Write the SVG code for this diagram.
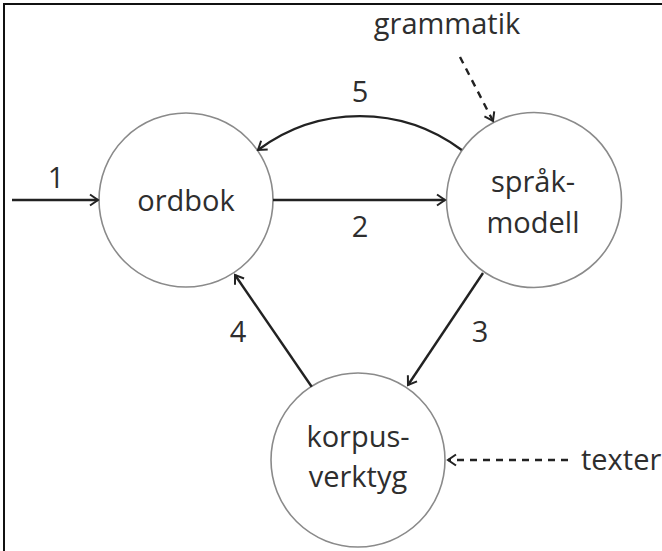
<svg xmlns="http://www.w3.org/2000/svg" width="662" height="551" viewBox="0 0 662 551">
<defs>
<marker id="ah" markerUnits="userSpaceOnUse" markerWidth="14" markerHeight="14" viewBox="-10 -7 12 14" refX="0" refY="0" orient="auto">
<path d="M-8,-5.5 L0,0 L-8,5.5" fill="none" stroke="#222" stroke-width="2"/>
</marker>
</defs>
<style>
.node{fill:#fff;stroke:#8a8a8a;stroke-width:1.6}
.t{font-family:"Open Sans","Noto Sans",sans-serif;font-size:29px;fill:#2e2e2e;text-anchor:middle}
.e{fill:none;stroke:#222;stroke-width:2.4;marker-end:url(#ah)}
.d{stroke-dasharray:7 6}
</style>
<rect width="662" height="551" fill="#fff"/>
<path d="M4,551 V4 H662" fill="none" stroke="#111" stroke-width="2"/>
<g id="ordbok">
<circle class="node" cx="186" cy="200" r="87"/>
<text class="t" x="186" y="211">ordbok</text>
</g>
<g id="sprakmodell">
<circle class="node" cx="534" cy="200" r="87.5"/>
<text class="t" x="533" y="192">språk-</text>
<text class="t" x="533" y="233">modell</text>
</g>
<g id="korpusverktyg">
<circle class="node" cx="358" cy="460" r="87"/>
<text class="t" x="358" y="447">korpus-</text>
<text class="t" x="358" y="487">verktyg</text>
</g>
<g id="grammatik">
<text class="t" x="447" y="34">grammatik</text>
</g>
<g id="texter">
<text class="t" x="581" y="470" style="text-anchor:start">texter</text>
</g>
<g id="connectors">
<path class="e" d="M12,200 H98"/>
<path class="e" d="M273,200 H445"/>
<path class="e" d="M461.7,150 A170 170 0 0 0 258,150"/>
<path class="e" d="M483,273 L408,385"/>
<path class="e" d="M311.7,386.7 L235,275"/>
<path class="e d" d="M460,57 L493,121"/>
<path class="e d" d="M568,460 H448"/>
<text class="t" x="56" y="188">1</text>
<text class="t" x="360" y="237">2</text>
<text class="t" x="480" y="342">3</text>
<text class="t" x="238" y="342">4</text>
<text class="t" x="360" y="102">5</text>
</g>
</svg>
